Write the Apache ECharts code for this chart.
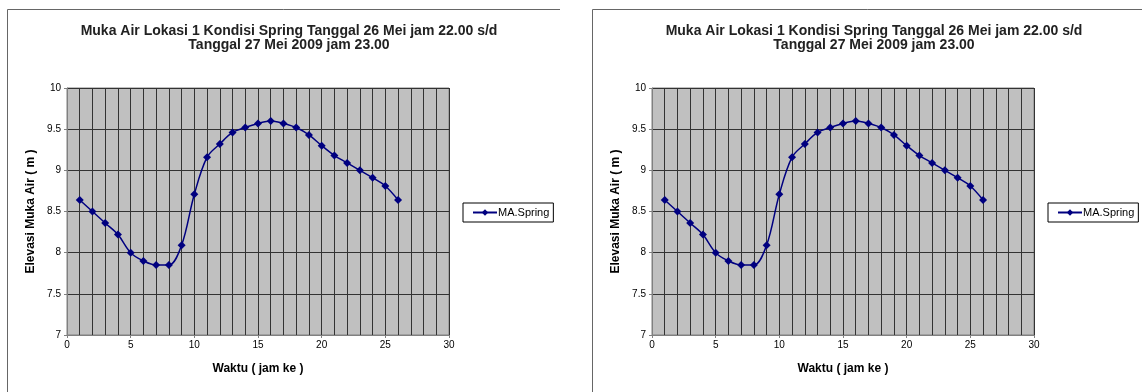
<!DOCTYPE html>
<html><head><meta charset="utf-8">
<script src="https://cdn.jsdelivr.net/npm/echarts@6/dist/echarts.min.js"></script>
<style>html,body{margin:0;padding:0;background:#fff}#c{width:1142px;height:392px}</style>
</head><body><div id="c"></div>
<script>
const hours = [1,2,3,4,5,6,7,8,9,10,11,12,13,14,15,16,17,18,19,20,21,22,23,24,25,26];
const elevation = [8.64,8.50,8.36,8.22,8.00,7.90,7.85,7.85,8.09,8.71,9.16,9.32,9.46,9.52,9.57,9.60,9.57,9.52,9.43,9.30,9.18,9.09,9.00,8.91,8.81,8.64];
const seriesName = 'MA.Spring';
const titleLine1 = 'Muka Air Lokasi 1 Kondisi Spring Tanggal 26 Mei jam 22.00 s/d';
const titleLine2 = 'Tanggal 27 Mei 2009 jam 23.00';
const xAxisTitle = 'Waktu ( jam ke )';
const yAxisTitle = 'Elevasi Muka Air ( m )';

const FONT = 'Liberation Sans, Arial, sans-serif';
const offsets = [0, 585];
const chart = echarts.init(document.getElementById('c'), null, {renderer:'canvas'});
const pts = hours.map((h,i)=>[h, elevation[i]]);

const grids = [], xAxes = [], yAxes = [], series = [], legends = [], titles = [], graphics = [];
offsets.forEach((o, k) => {
  grids.push({left: 67+o, top: 88, width: 382, height: 247, show: true,
    backgroundColor: '#c0c0c0', borderColor: '#808080', borderWidth: 1});
  xAxes.push({type:'value', gridIndex:k, min:0, max:30, interval:5,
    name: xAxisTitle, nameLocation:'middle', nameGap: 28,
    nameTextStyle:{fontFamily:FONT, fontWeight:'bold', fontSize:12, color:'#000'},
    axisLine:{show:true, lineStyle:{color:'#808080'}},
    axisTick:{show:true, length:3, inside:false, lineStyle:{color:'#808080'}},
    axisLabel:{fontFamily:FONT, fontSize:10, color:'#000', margin:5},
    splitLine:{show:true, lineStyle:{color:'#333', width:1}},
    minorTick:{show:false, splitNumber:5},
    minorSplitLine:{show:true, lineStyle:{color:'#333', width:1}}
  });
  yAxes.push({type:'value', gridIndex:k, min:7, max:10, interval:0.5,
    name: yAxisTitle, nameLocation:'middle', nameGap: 30,
    nameTextStyle:{fontFamily:FONT, fontWeight:'bold', fontSize:12, color:'#000'},
    axisLine:{show:true, lineStyle:{color:'#808080'}},
    axisTick:{show:true, length:3, lineStyle:{color:'#808080'}},
    axisLabel:{fontFamily:FONT, fontSize:10, color:'#000', margin:6},
    splitLine:{show:true, lineStyle:{color:'#333', width:1}}
  });
  series.push({type:'line', name: seriesName, xAxisIndex:k, yAxisIndex:k, data: pts,
    smooth: 0.35, symbol:'diamond', symbolSize:8, showSymbol:true,
    lineStyle:{color:'#000080', width:1.5}, itemStyle:{color:'#000080'}});
  legends.push({left: 463+o, top: 203, orient:'vertical', data:[seriesName],
    borderColor:'#000', borderWidth:1, padding:[4,4,4,9], itemWidth:24, itemHeight:8, itemGap:0,
    textStyle:{fontFamily:FONT, fontSize:11, color:'#000', padding:[0,0,0,-4]}});
  titles.push({text: titleLine1 + '\n' + titleLine2, left: 284+o, top: 19, textAlign:'center',
    textStyle:{fontFamily:FONT, fontWeight:'bold', fontSize:14, color:'#222', lineHeight:14, align:'center'}});
  graphics.push({type:'polyline', shape:{points:[[7+o+0.5,392],[7+o+0.5,9.5],[ (k===0?560:1142), 9.5]]},
    style:{stroke:'#666', lineWidth:1, fill:null}, silent:true});
});

chart.setOption({
  animation:false,
  title: titles, grid: grids, xAxis: xAxes, yAxis: yAxes, series: series, legend: legends,
  graphic: graphics
});
</script></body></html>
